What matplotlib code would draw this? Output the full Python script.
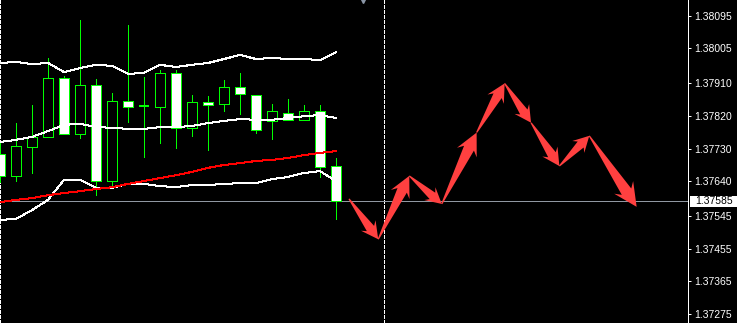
import matplotlib
matplotlib.use("Agg")
import matplotlib.pyplot as plt
import numpy as np
from matplotlib.patches import Rectangle, Polygon
from matplotlib.transforms import IdentityTransform, blended_transform_factory

# H1 bars (open, high, low, close)
opens = [1.37715, 1.37655, 1.37734, 1.37762, 1.37924, 1.37770, 1.37905, 1.37641,
         1.37861, 1.37847, 1.37844, 1.37938, 1.37787, 1.37858, 1.37852, 1.37899,
         1.37877, 1.37806, 1.37828, 1.37809, 1.37833, 1.37682]
highs = [1.37745, 1.37800, 1.37850, 1.37979, 1.37929, 1.38083, 1.37921, 1.37883,
         1.38069, 1.37927, 1.37946, 1.37946, 1.37877, 1.37874, 1.37918, 1.37938,
         1.37877, 1.37852, 1.37866, 1.37850, 1.37850, 1.37704]
lows = [1.37638, 1.37641, 1.37663, 1.37762, 1.37770, 1.37759, 1.37602, 1.37624,
        1.37803, 1.37707, 1.37745, 1.37732, 1.37765, 1.37726, 1.37833, 1.37825,
        1.37773, 1.37756, 1.37809, 1.37809, 1.37652, 1.37537]
closes = [1.37655, 1.37737, 1.37762, 1.37924, 1.37770, 1.37905, 1.37641, 1.37861,
          1.37844, 1.37847, 1.37938, 1.37787, 1.37858, 1.37850, 1.37899, 1.37880,
          1.37781, 1.37833, 1.37809, 1.37833, 1.37679, 1.37586]

# Bollinger bands and the red moving average
bb_upper = [1.37965, 1.37968, 1.37962, 1.37965, 1.37940, 1.37951, 1.37960, 1.37957,
            1.37935, 1.37938, 1.37960, 1.37954, 1.37960, 1.37965, 1.37976, 1.37987,
            1.37976, 1.37979, 1.37976, 1.37976, 1.37973, 1.37995]
bb_middle = [1.37748, 1.37754, 1.37762, 1.37778, 1.37795, 1.37798, 1.37789, 1.37787,
             1.37784, 1.37784, 1.37789, 1.37789, 1.37792, 1.37800, 1.37806, 1.37811,
             1.37809, 1.37809, 1.37814, 1.37819, 1.37822, 1.37814]
bb_lower = [1.37534, 1.37537, 1.37561, 1.37589, 1.37644, 1.37644, 1.37622, 1.37622,
            1.37633, 1.37633, 1.37627, 1.37624, 1.37630, 1.37630, 1.37633, 1.37635,
            1.37635, 1.37646, 1.37652, 1.37663, 1.37668, 1.37641]
ma_red = [1.37583, 1.37589, 1.37594, 1.37602, 1.37608, 1.37613, 1.37619, 1.37624,
          1.37633, 1.37641, 1.37649, 1.37657, 1.37666, 1.37677, 1.37685, 1.37690,
          1.37696, 1.37699, 1.37704, 1.37712, 1.37718, 1.37723]

# forecast zigzag (bar position, price)
forecast_x = [21.81, 23.64, 25.58, 27.61, 29.79, 31.54, 33.19, 34.96, 36.83, 39.79]
forecast_y = [1.37592, 1.37481, 1.37655, 1.37578, 1.37774, 1.37909, 1.37801,
              1.37682, 1.37765, 1.37570]

tick_prices = [1.38095, 1.38005, 1.37910, 1.37820, 1.37730, 1.37640,
               1.37545, 1.37455, 1.37365, 1.37275]
last_price = 1.37585
separator_bars = [0, 24]
shift_bar = 22.7

GREEN = "#00ff00"
ARROW = "#ff4040"
px = 0.72  # one pixel in points at 100 dpi

plt.rcParams["font.family"] = ["Liberation Sans", "DejaVu Sans"]

fig = plt.figure(figsize=(7.37, 3.23), dpi=100, facecolor="black")
ax = fig.add_axes([0, 0, 688 / 737, 1], facecolor="black")
ax.set_xlim(0, 43)
ax.set_ylim(1.37251, 1.38138)

for xs in separator_bars:
    ax.axvline(xs, color="white", lw=px, ls=(0, (3, 2)), zorder=1,
               antialiased=False)

ax.axhline(last_price, color="#9098a2", lw=px, zorder=2, antialiased=False)

# candles
bw = 0.6
for i in range(len(opens)):
    o, h, l, c = opens[i], highs[i], lows[i], closes[i]
    ax.vlines(i, l, h, color=GREEN, lw=px, zorder=3, antialiased=False)
    if o == c:
        ax.hlines(c, i - bw / 2, i + bw / 2, color=GREEN, lw=2 * px, zorder=4,
                  antialiased=False)
    else:
        fc = "white" if c < o else "black"
        ax.add_patch(Rectangle((i - bw / 2, min(o, c)), bw, abs(o - c),
                               facecolor=fc, edgecolor=GREEN, lw=px,
                               zorder=4, antialiased=False))

bars = np.arange(len(opens))
for band in (bb_upper, bb_middle, bb_lower):
    ax.plot(bars, band, color="white", lw=px, zorder=5, antialiased=False)
ax.plot(bars, ma_red, color="red", lw=px, zorder=5, antialiased=False)


def draw_arrow(p0, p1):
    a = ax.transData.transform(p0)
    b = ax.transData.transform(p1)
    d = b - a
    L = np.hypot(d[0], d[1])
    u = d / L
    n = np.array([-u[1], u[0]])
    hl = 0.18 * L + 8
    hw = 0.38 * hl + 2.5
    nw = 0.5 * hw
    base = b - u * hl
    neck = b - u * hl * 0.78
    pts = [a + n * 0.6, neck + n * nw, base + n * hw, b,
           base - n * hw, neck - n * nw, a - n * 0.6]
    ax.add_patch(Polygon(pts, closed=True, transform=IdentityTransform(),
                         facecolor=ARROW, edgecolor="none", zorder=6))


for k in range(len(forecast_x) - 1):
    draw_arrow((forecast_x[k], forecast_y[k]), (forecast_x[k + 1], forecast_y[k + 1]))

# chart shift marker at top
top = blended_transform_factory(ax.transData, ax.transAxes)
ax.plot(shift_bar, 1.0, marker="v", color="#8a96a6", ms=5, transform=top,
        clip_on=False, zorder=7)

# price axis
for s in ("left", "top", "bottom"):
    ax.spines[s].set_visible(False)
ax.spines["right"].set_color("white")
ax.spines["right"].set_linewidth(px)
ax.set_xticks([])
ax.yaxis.tick_right()
ax.set_yticks(tick_prices)
ax.set_yticklabels([f"{p:.5f}" for p in tick_prices])
ax.tick_params(axis="y", colors="white", length=3 * px, width=px, pad=2,
               labelsize=7.5)

side = blended_transform_factory(ax.transAxes, ax.transData)
ax.add_patch(Rectangle((1.003, last_price - 0.00015), 0.068, 0.0003,
                       transform=side, facecolor="white", edgecolor="none",
                       clip_on=False, zorder=8))
ax.text(1.0105, last_price, f"{last_price:.5f}", transform=side, ha="left",
        va="center", color="black", fontsize=7.5, zorder=9, clip_on=False)

fig.savefig("out.png", dpi=100, facecolor="black")
